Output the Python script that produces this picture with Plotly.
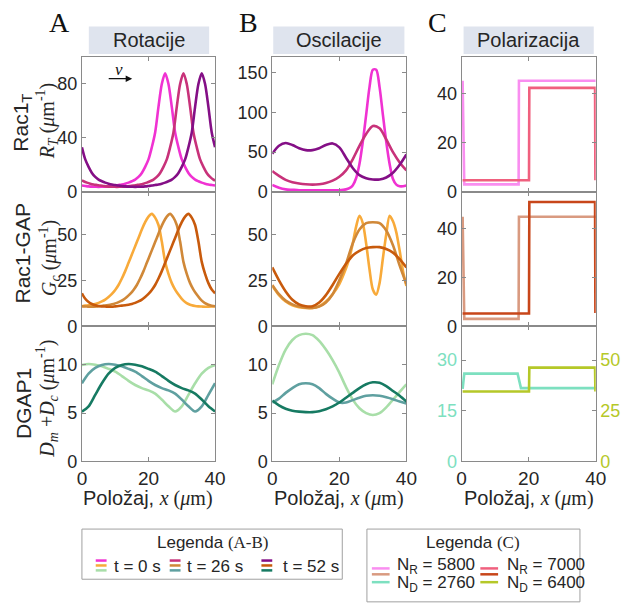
import plotly.graph_objects as go

W, H = 623, 603
XS = 615.5  # horizontal capture scale compensation
def px(x): return x / XS
def py(y): return 1 - y / H

SANS = "Liberation Sans, Arial, sans-serif"
SERIF = "Liberation Serif, Times New Roman, serif"

# ---------------- data ----------------
x_int = list(range(0, 41))
x_half = [0] + [i + 0.5 for i in range(40)] + [40]
x_even = list(range(0, 41, 2))
times = ["t = 0 s", "t = 26 s", "t = 52 s"]

# A: Rotacije
rot_rac_t0 = [4.6,4.3,4.0,3.8,3.7,3.6,3.7,3.8,4.0,4.3,4.6,5.0,5.4,6.0,6.8,7.8,9,11,14,18.5,24,33,44,63,80,88,
              80,63,44,33,24,18.5,14,11,9,7.8,6.8,6.0,5.4,5.0,4.6]
rot_rac_t26 = [8.4,7.8,6.8,6.0,5.4,5.0,4.6,4.3,4.0,3.8,3.7,3.6,3.7,3.8,4.0,4.3,4.6,5.0,5.4,6.0,6.8,7.8,9,11,14,18.5,
               24,33,44,63,80,88,80,63,44,33,24,18.5,14,11,9,8.4]
rot_rac_t52 = [33,24,18.5,14,11,9,7.8,6.8,6.0,5.4,5.0,4.6,4.3,4.0,3.8,3.7,3.6,3.7,3.8,4.0,4.3,4.6,5.0,5.4,6.0,6.8,
               7.8,9,11,14,18.5,24,33,44,63,80,88,80,63,44,33]
rot_gap_t0 = [11.0,11.3,11.5,11.8,12.2,12.8,13.6,14.6,16,17.7,19.8,22.5,26,30,34.5,39,43.5,48,52.5,56.5,59.5,61,
              59,55,46,35,28.5,23.5,20,17.3,15,13.3,12.2,11.5,11.1,10.9,10.8,10.7,10.7,10.8,11.0]
rot_gap_t26 = [11.0,10.9,10.8,10.7,10.7,10.8,11.1,11.3,11.5,11.8,12.2,12.8,13.6,14.6,16,17.7,19.8,22.5,26,30,34.5,
               39,43.5,48,52.5,56.5,59.5,61,59,55,46,35,28.5,23.5,20,17.3,15,13.3,12.2,11.5,11.1,11.0]
rot_gap_t52 = [18,15,13.3,12.2,11.5,11.1,10.9,10.8,10.7,10.7,10.9,11.1,11.3,11.5,11.8,12.2,12.8,13.6,14.6,16,17.7,
               19.8,22.5,26,30,34.5,39,43.5,48,52.5,56.5,59.5,61,59,55,46,35,28.5,23.5,20,18]
rot_dg_t0 = [10.0,10.1,10.03,9.86,9.6,9.3,8.85,8.35,7.92,7.6,7.36,7.02,6.41,5.71,5.17,5.7,6.9,8.1,9.1,9.7,10.0]
rot_dg_t26 = [8.1,9.1,9.7,10.0,10.1,10.03,9.86,9.6,9.3,8.85,8.35,7.92,7.6,7.36,7.02,6.41,5.71,5.17,5.7,6.9,8.1]
rot_dg_t52 = [5.15,5.7,6.9,8.1,9.1,9.7,10.0,10.1,10.03,9.86,9.6,9.3,8.85,8.35,7.92,7.6,7.36,7.02,6.41,5.71,5.17]

# B: Oscilacije
osc_peak_x = [0,2,4,6,8,10,12,14,16,18,20,22,23,24,25,26,27,28,29,30,31,32,33,34,35,36,37,38,39,40]
osc_rac_t0 = [8.5,5,3,2.5,2,2,2,2,2,2,2,3,4.5,8,17,35,63,97,132,154,154,132,97,63,35,16,9,7,7,8]
osc_rac_t26 = [26,20,15,12,10.5,9.5,9,9.5,11,14,19,27,41,58,73,83,80,66,50,37,27]
osc_rac_t52 = [48,58,61.5,59,55,52.5,52.5,55,59,61,56,43,30,21,17,15.5,15.5,18,24,34,47]
osc_gap_t0 = [22,17,13.5,11.5,10.5,10,10,11,13.5,17.5,23,31.5,37,45,54,60,56,45,31,20,17.2,23.5,37,50,60,57,51,41,30,22]
osc_gap_t26 = [22.5,17.5,14,12,10.8,10.2,10,10.8,13,17.5,25,34,45,52.5,56,56.5,56,52,44,33,23]
osc_gap_t52 = [32,25,19,14.5,12,11,11,13,17,22.5,28.5,34,38.5,41,42.5,43,43,42,40,36.5,32]
osc_dg_t0 = [8,10,11.6,12.6,13.1,13.25,13.1,12.5,11.6,10.5,9.2,7.7,6.4,5.5,5.0,4.8,5.0,5.6,6.4,7.2,8]
osc_dg_t26 = [6.1,6.5,7.1,7.6,8.0,8.1,8.0,7.6,7.0,6.5,6.1,6.1,6.35,6.6,6.8,6.85,6.8,6.65,6.45,6.2,6.0]
osc_dg_t52 = [6.3,5.8,5.45,5.25,5.15,5.1,5.1,5.2,5.4,5.7,6.1,6.6,7.1,7.6,8.0,8.2,8.15,7.8,7.3,6.8,6.2]

# C: Polarizacija
pol_x_low = [0.3, 0.8, 17.0, 17.1, 40]
pol_x_high = [0.3, 20.1, 20.2, 39.8, 39.9]
pol_x_dlow = [0.3, 0.8, 16.7, 17.7, 40]
pol_rac_5800 = [45.3, 3.0, 3.0, 45.3, 45.3]
pol_rac_7000 = [4.7, 4.7, 42.4, 42.4, 4.7]
pol_gap_5800 = [44.8, 3.1, 3.1, 44.8, 44.8]
pol_gap_7000 = [5.3, 5.3, 50.8, 50.8, 5.5]
pol_dg_2760 = [21.5, 26, 26, 21.7, 21.7]
pol_dg_6400 = [34.5, 34.5, 46.3, 46.3, 34.5]

# colours
C_RAC = ['#f032d2', '#c8327a', '#840f86']
C_GAP = ['#f8aa3a', '#d08838', '#c85a0c']
C_DG = ['#a8dea8', '#5fa0a0', '#167a62']
C_POL = dict(r58='#f98ef0', r70='#f0607e', g58='#d99a80', g70='#c8461a', d27='#7de0c0', d64='#b5c828')

fig = go.Figure()
LW = 2.6

def ax_names(k):
    return ('x' if k == 1 else f'x{k}', 'y' if k == 1 else f'y{k}')

def add(x, y, color, k, shape='spline', yaxis=None):
    xa, ya = ax_names(k)
    fig.add_trace(go.Scatter(x=x, y=y, mode='lines',
                             line=dict(color=color, width=LW, shape=shape, smoothing=0.8),
                             xaxis=xa, yaxis=yaxis or ya, showlegend=False, hoverinfo='skip'))

# Column A
add(x_int, rot_rac_t0, C_RAC[0], 1); add(x_half, rot_rac_t26, C_RAC[1], 1); add(x_int, rot_rac_t52, C_RAC[2], 1)
add(x_int, rot_gap_t0, C_GAP[0], 4); add(x_half, rot_gap_t26, C_GAP[1], 4); add(x_int, rot_gap_t52, C_GAP[2], 4)
add(x_even, rot_dg_t0, C_DG[0], 7); add(x_even, rot_dg_t26, C_DG[1], 7); add(x_even, rot_dg_t52, C_DG[2], 7)
# Column B
add(osc_peak_x, osc_rac_t0, C_RAC[0], 2); add(x_even, osc_rac_t26, C_RAC[1], 2); add(x_even, osc_rac_t52, C_RAC[2], 2)
add(osc_peak_x, osc_gap_t0, C_GAP[0], 5); add(x_even, osc_gap_t26, C_GAP[1], 5); add(x_even, osc_gap_t52, C_GAP[2], 5)
add(x_even, osc_dg_t0, C_DG[0], 8); add(x_even, osc_dg_t26, C_DG[1], 8); add(x_even, osc_dg_t52, C_DG[2], 8)
# Column C
add(pol_x_low, pol_rac_5800, C_POL['r58'], 3, 'linear'); add(pol_x_high, pol_rac_7000, C_POL['r70'], 3, 'linear')
add(pol_x_low, pol_gap_5800, C_POL['g58'], 6, 'linear'); add(pol_x_high, pol_gap_7000, C_POL['g70'], 6, 'linear')
add(pol_x_dlow, pol_dg_2760, C_POL['d27'], 9, 'linear'); add(pol_x_high, pol_dg_6400, C_POL['d64'], 9, 'linear', yaxis='y10')

# ---------------- axes ----------------
AXC = '#8a8a8a'
TXT = '#262626'
col_x = [(78, 213), (271, 407), (463, 599)]
row_y = [(58, 195), (195, 332), (332, 469)]
yranges = [[[0, 100], [0, 170], [0, 55]], [[0, 73], [0, 73], [0, 55]], [[0, 14], [0, 14], [0, 40]]]
yticks = [[[0, 40, 80], [0, 50, 100, 150], [0, 20, 40]], [[0, 25, 50], [0, 25, 50], [0, 20, 40]],
          [[0, 5, 10], [0, 5, 10], [0, 15, 30]]]
layout = {}
for r in range(3):
    for c in range(3):
        k = r * 3 + c + 1
        xa, ya = ax_names(k)
        layout['xaxis' if k == 1 else f'xaxis{k}'] = dict(
            domain=[px(col_x[c][0]), px(col_x[c][1])], range=[0, 40], anchor=ya,
            tickvals=[0, 20, 40], ticks='inside', ticklen=4, tickcolor=AXC, mirror='ticks',
            showline=True, linecolor=AXC, linewidth=1, showgrid=False, zeroline=False,
            showticklabels=(r == 2), tickfont=dict(family=SANS, size=19, color=TXT))
        yfont = dict(family=SANS, size=18, color=TXT)
        if k == 9:
            yfont = dict(family=SANS, size=18, color=C_POL['d27'])
        layout['yaxis' if k == 1 else f'yaxis{k}'] = dict(
            domain=[py(row_y[r][1]), py(row_y[r][0])], range=yranges[r][c], anchor=xa,
            tickvals=yticks[r][c], ticks='inside', ticklen=4, tickcolor=AXC,
            mirror=(True if k == 9 else 'ticks'),
            showline=True, linecolor=AXC, linewidth=1, showgrid=False, zeroline=False,
            tickfont=yfont)
layout['yaxis10'] = dict(overlaying='y9', side='right', anchor='x9', range=[0, 40 * 50 / 30],
                         tickvals=[0, 25, 50], ticks='inside', ticklen=4, tickcolor=AXC,
                         showline=True, linecolor=AXC, showgrid=False, zeroline=False,
                         tickfont=dict(family=SANS, size=18, color=C_POL['d64']))

# ---------------- annotations / shapes ----------------
anns = []
shapes = []

def ann(x, y, text, size=18, family=SANS, color=TXT, **kw):
    d = dict(x=px(x), y=py(y), xref='paper', yref='paper', text=text, showarrow=False,
             font=dict(family=family, size=size, color=color), xanchor='center', yanchor='middle')
    d.update(kw)
    anns.append(d)

# panel letters
ann(55, 23, 'A', 28, SERIF, '#111')
ann(247, 23, 'B', 28, SERIF, '#111')
ann(439, 23, 'C', 28, SERIF, '#111')
# header boxes
for (x0, x1), t in zip([(85, 207), (272, 405), (465, 597)], ['Rotacije', 'Oscilacije', 'Polarizacija']):
    shapes.append(dict(type='rect', xref='paper', yref='paper', x0=px(x0), x1=px(x1), y0=py(55), y1=py(27),
                       fillcolor='#dfe4ee', line=dict(width=0), layer='below'))
    ann((x0 + x1) / 2, 41, t, 20)

# y titles
ann(17, 125, 'Rac1<sub>T</sub>', 21, textangle=-90)
ann(43, 123, '<i>R<sub>T</sub></i> (<i>μ</i>m<sup>-1</sup>)', 20, SERIF, textangle=-90)
ann(18, 258, 'Rac1-GAP', 21, textangle=-90)
ann(45, 262, '<i>G<sub>c</sub></i> (<i>μ</i>m<sup>-1</sup>)', 20, SERIF, textangle=-90)
ann(18, 410, 'DGAP1', 21, textangle=-90)
ann(43, 405, '<i>D<sub>m</sub></i> +<i>D<sub>c</sub></i> (<i>μ</i>m<sup>-1</sup>)', 20, SERIF, textangle=-90)

# x titles
xt = 'Položaj, <span style="font-family:Liberation Serif"><i>x</i> (<i>μ</i>m)</span>'
for xc in (145, 339, 531):
    ann(xc, 507, xt, 20)

# v arrow
anns.append(dict(x=px(129), y=py(80), ax=-25, ay=0, xref='paper', yref='paper',
                 text='', showarrow=True, arrowhead=2,
                 arrowsize=1, arrowwidth=1.3, arrowcolor='#111'))
ann(116, 71, '<i>v</i>', 17, SERIF, '#111')

# legend A-B
shapes.append(dict(type='rect', xref='paper', yref='paper', x0=px(78), x1=px(342), y0=py(589), y1=py(538),
                   fillcolor='white', line=dict(color='#a0a0a0', width=1)))
ann(211, 552, 'Legenda <span style="font-family:Liberation Serif">(A-B)</span>', 17)
for (ix0, ix1, tx), i in zip([(92, 103, 108), (167, 178, 183), (260, 271, 280)], range(3)):
    for yy, col in zip((570, 575, 580), (C_RAC[i], C_GAP[i], C_DG[i])):
        shapes.append(dict(type='line', xref='paper', yref='paper', x0=px(ix0), x1=px(ix1), y0=py(yy), y1=py(yy),
                           line=dict(color=col, width=2.5)))
    ann(tx, 576, times[i], 17, xanchor='left')

# legend C
shapes.append(dict(type='rect', xref='paper', yref='paper', x0=px(367), x1=px(583), y0=py(612), y1=py(538),
                   fillcolor='white', line=dict(color='#a0a0a0', width=1)))
ann(475, 552, 'Legenda <span style="font-family:Liberation Serif">(C)</span>', 17)
for (ix0, ix1, tx), cols, labs in [((372, 390, 395), ('r58', 'g58', 'd27'), ('N<sub>R</sub> = 5800', 'N<sub>D</sub> = 2760')),
                                   ((482, 500, 507), ('r70', 'g70', 'd64'), ('N<sub>R</sub> = 7000', 'N<sub>D</sub> = 6400'))]:
    for yy, cc in zip((578, 584, 592), cols):
        shapes.append(dict(type='line', xref='paper', yref='paper', x0=px(ix0), x1=px(ix1), y0=py(yy), y1=py(yy),
                           line=dict(color=C_POL[cc], width=2.5)))
    ann(tx, 576, labs[0], 17, xanchor='left')
    ann(tx, 594, labs[1], 17, xanchor='left')

layout.update(dict(width=W, height=H, margin=dict(l=0, r=0, t=0, b=0), paper_bgcolor='white',
                   plot_bgcolor='white', annotations=anns, shapes=shapes, showlegend=False,
                   font=dict(family=SANS, color=TXT)))
fig.update_layout(**layout)
fig.write_html("out.html", config={'displayModeBar': False},
               post_script="document.body.style.margin='0px';document.body.style.overflow='hidden';")
